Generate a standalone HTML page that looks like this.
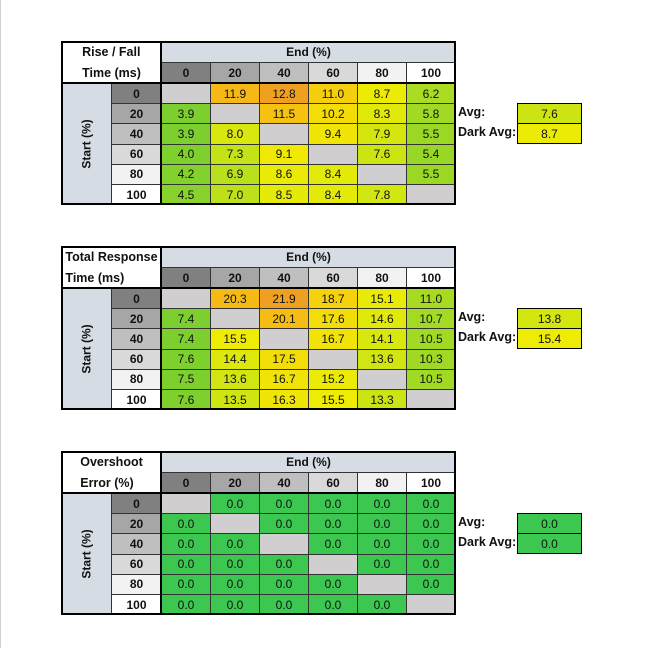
<!DOCTYPE html>
<html><head><meta charset="utf-8"><style>
body{margin:0;background:#fff;}
#root{position:relative;width:646px;height:656px;overflow:hidden;font-family:"Liberation Sans",sans-serif;font-size:12px;color:#111;}
.c{position:absolute;box-sizing:border-box;display:flex;align-items:center;justify-content:center;border:1px solid #333;}
.b{font-weight:bold;}
.lbl{position:absolute;font-weight:bold;font-size:12.5px;}
</style></head><body>
<div id="root">
<div style="position:absolute;left:0;top:0;width:1px;height:648px;background:#d0d0d0"></div>
</div>
<script>
const levels=["0","20","40","60","80","100"];
const riseFall=[[null,11.9,12.8,11.0,8.7,6.2],[3.9,null,11.5,10.2,8.3,5.8],[3.9,8.0,null,9.4,7.9,5.5],[4.0,7.3,9.1,null,7.6,5.4],[4.2,6.9,8.6,8.4,null,5.5],[4.5,7.0,8.5,8.4,7.8,null]];
const totalResp=[[null,20.3,21.9,18.7,15.1,11.0],[7.4,null,20.1,17.6,14.6,10.7],[7.4,15.5,null,16.7,14.1,10.5],[7.6,14.4,17.5,null,13.6,10.3],[7.5,13.6,16.7,15.2,null,10.5],[7.6,13.5,16.3,15.5,13.3,null]];
const overshoot=[[null,0,0,0,0,0],[0,null,0,0,0,0],[0,0,null,0,0,0],[0,0,0,null,0,0],[0,0,0,0,null,0],[0,0,0,0,0,null]];
const avgs=[[7.6,8.7],[13.8,15.4],[0.0,0.0]];
const titles=[["Rise / Fall","Time (ms)"],["Total Response","Time (ms)"],["Overshoot","Error (%)"]];
const tables=[riseFall,totalResp,overshoot];
const tops=[41,246,451];
const xs=[61,111,161,210,259,308,357,406,455];
const hdrCol=["#808080","#a6a6a6","#bfbfbf","#d9d9d9","#f2f2f2","#ffffff"];
const stops=[[0,[124,207,46]],[0.3,[176,222,32]],[0.55,[238,236,4]],[0.75,[245,216,10]],[0.9,[245,184,22]],[1,[240,160,32]]];
function scale(t){t=Math.max(0,Math.min(1,t));for(let i=1;i<stops.length;i++){if(t<=stops[i][0]){const a=stops[i-1],b=stops[i],f=(t-a[0])/(b[0]-a[0]);return 'rgb('+a[1].map((v,k)=>Math.round(v+(b[1][k]-v)*f)).join(',')+')';}}return 'rgb(240,160,32)';}
const root=document.getElementById('root');
function cell(x,y,w,h,txt,bg,cls,name){const d=document.createElement('div');d.className='c '+(cls||'');d.style.left=x+'px';d.style.top=y+'px';d.style.width=(w+1)+'px';d.style.height=(h+1)+'px';d.style.background=bg||'#fff';d.textContent=txt;


root.appendChild(d);return d;}
tables.forEach((data,ti)=>{
 const T=tops[ti];const rowY=i=>T+42+i*20.2;
 const vals=data.flat().filter(v=>v!==null);const mn=Math.min(...vals),mx=Math.max(...vals);
 const col=v=>ti===2?'#3cc850':scale((v-mn)/(mx-mn));
 const t=cell(xs[0],T,100,42,'',"#fff",'b','table-title');t.style.flexDirection='column';t.style.lineHeight='21px';t.style.fontSize='12.5px';t.innerHTML=titles[ti][0]+'<br>'+titles[ti][1];
 cell(xs[2],T,294,21,'End (%)','#d6dce4','b','end-axis-title');
 levels.forEach((l,j)=>cell(xs[2+j],T+21,xs[3+j]-xs[2+j],21,l,hdrCol[j],'b','end-header-'+l));
 const s=cell(xs[0],T+42,50,121.2,'','#d6dce4','b','start-axis-title');
 const sp=document.createElement('span');sp.textContent='Start (%)';sp.style.transform='rotate(-90deg)';sp.style.whiteSpace='nowrap';s.appendChild(sp);
 levels.forEach((l,i)=>{cell(xs[1],rowY(i),50,20.2,l,hdrCol[i],'b','start-header-'+l);
  data[i].forEach((v,j)=>{cell(xs[2+j],rowY(i),xs[3+j]-xs[2+j],20.2,v===null?'':v.toFixed(1),v===null?'#d0cece':col(v),'','cell-'+l+'-'+levels[j]);});});
 const o=document.createElement('div');o.style.cssText=`position:absolute;left:${xs[0]}px;top:${T}px;width:${395}px;height:${164}px;border:2px solid #000;box-sizing:border-box;pointer-events:none`;
 
 
 root.appendChild(o);
 const ln=document.createElement('div');ln.style.cssText=`position:absolute;left:${xs[0]}px;top:${T+41}px;width:395px;height:2px;background:#000`;
 
 
 root.appendChild(ln);
 const ln2=document.createElement('div');ln2.style.cssText=`position:absolute;left:${xs[2]-1}px;top:${T}px;width:2px;height:164px;background:#000`;
 
 
 root.appendChild(ln2);
 ['Avg:','Dark Avg:'].forEach((a,k)=>{const L=document.createElement('div');L.className='lbl';L.textContent=a;L.style.left='458px';L.style.top=(T+64+k*20)+'px';
  
  
  root.appendChild(L);
  const v=avgs[ti][k];const c=cell(517,T+62+k*20,64,20,v.toFixed(1),col(v),'',k?'dark-avg-value':'avg-value');c.style.border='1px solid #000';});
});
</script>
</body></html>
